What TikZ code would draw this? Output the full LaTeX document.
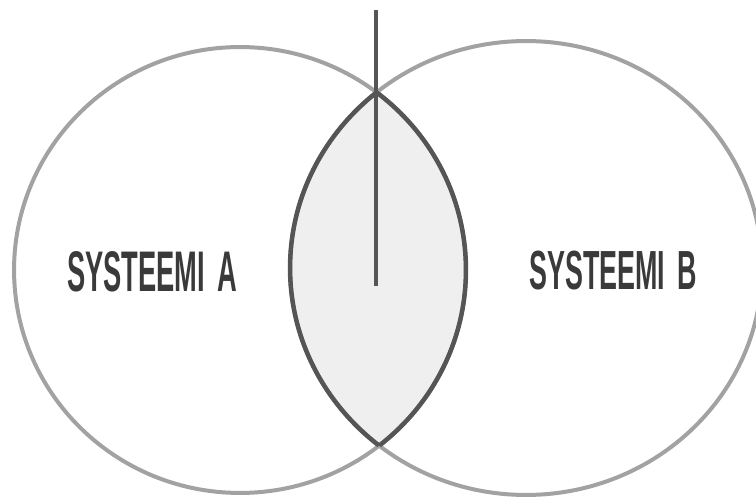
\documentclass[tikz,border=0pt]{standalone}
\usepackage{fontspec}
\setmainfont{Liberation Sans}
\usepackage{xcolor}
\usepackage{graphicx}
\usetikzlibrary{positioning}
\definecolor{ringgray}{HTML}{A2A2A2}
\definecolor{edgegray}{HTML}{555555}
\definecolor{lensgray}{HTML}{EFEFEF}
\definecolor{labelgray}{HTML}{3A3A3A}

\begin{document}
\begin{tikzpicture}[
    x=0.02cm, y=-0.02cm,
    ring/.style={draw=ringgray, line width=0.8mm},
    lensedge/.style={draw=edgegray, line width=0.9mm},
    axis/.style={draw=edgegray, line width=0.7mm},
    sysname/.style={text=labelgray, font=\bfseries, inner sep=0pt},
]
    \useasboundingbox (0,0) rectangle (756,499);
    \clip (0,0) rectangle (756,499);
    % overlap
    \begin{scope}
        \clip (240,270) ellipse [x radius=4.52cm, y radius=4.46cm];
        \fill[lensgray] (526,268) ellipse [x radius=4.72cm, y radius=4.54cm];
    \end{scope}
    \draw[ring] (240,270) ellipse [x radius=4.52cm, y radius=4.46cm];
    \draw[ring] (526,268) ellipse [x radius=4.72cm, y radius=4.54cm];
    \begin{scope}
        \clip (240,270) ellipse [x radius=4.52cm, y radius=4.46cm];
        \draw[lensedge] (526,268) ellipse [x radius=4.72cm, y radius=4.54cm];
    \end{scope}
    \begin{scope}
        \clip (526,268) ellipse [x radius=4.72cm, y radius=4.54cm];
        \draw[lensedge] (240,270) ellipse [x radius=4.52cm, y radius=4.46cm];
    \end{scope}
    \node[sysname] (sysA) at (152,272) {\resizebox{3.4cm}{0.8cm}{SYSTEEMI\hspace{0.45em}A}};
    \node[sysname] (sysB) at (613,271) {\resizebox{3.35cm}{0.77cm}{SYSTEEMI\hspace{0.45em}B}};
    \coordinate (axtop) at (376,10);
    \coordinate (axend) at (376,286);
    \draw[axis] (axtop) -- (axend);
\end{tikzpicture}
\end{document}
